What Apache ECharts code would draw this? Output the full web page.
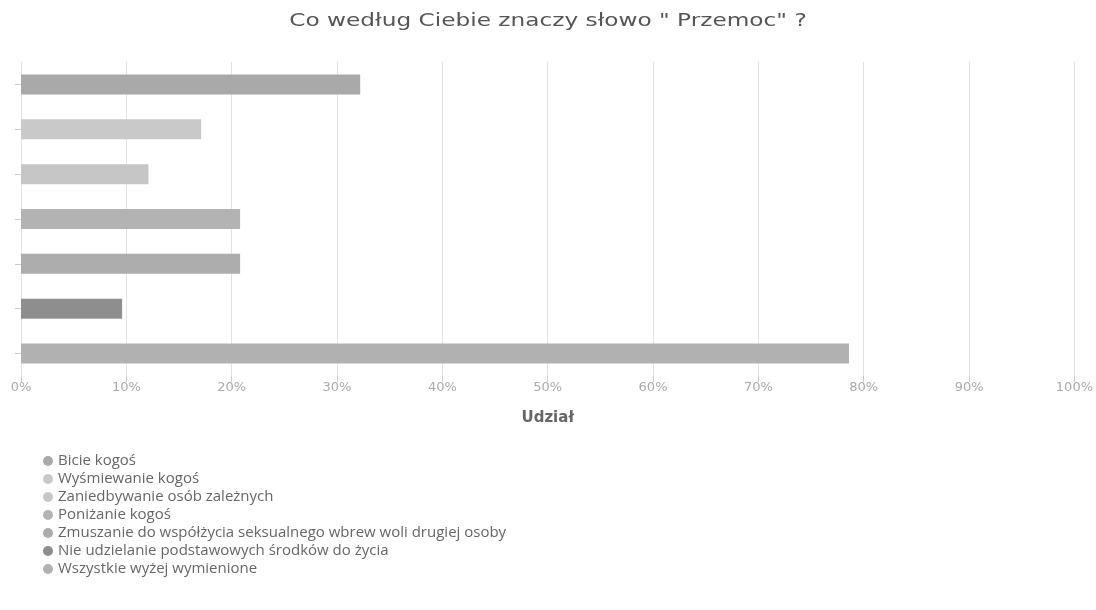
<!DOCTYPE html>
<html>
<head>
<meta charset="utf-8">
<script src="https://cdn.jsdelivr.net/npm/echarts@6/dist/echarts.min.js"></script>
<style>html,body{margin:0;padding:0;background:#fff}#c{width:1096px;height:610px}</style>
</head>
<body>
<div id="c"></div>
<script>
const titleText = 'Co według Ciebie znaczy słowo " Przemoc" ?';
const categories = [
  "Bicie kogoś",
  "Wyśmiewanie kogoś",
  "Zaniedbywanie osób zależnych",
  "Poniżanie kogoś",
  "Zmuszanie do współżycia seksualnego wbrew woli drugiej osoby",
  "Nie udzielanie podstawowych środków do życia",
  "Wszystkie wyżej wymienione"
];
const values = [32.2, 17.1, 12.1, 20.8, 20.8, 9.6, 78.6];
const colors = ["#a9a9a9", "#c9c9c9", "#c6c6c6", "#b3b3b3", "#adadad", "#8e8e8e", "#b1b1b1"];
const xTicks = [0, 10, 20, 30, 40, 50, 60, 70, 80, 90, 100];

const series = categories.map((name, i) => ({
  name: name,
  type: 'bar',
  stack: 'all',
  barWidth: 20,
  itemStyle: { color: colors[i] },
  data: categories.map((c, j) => (j === i ? values[i] : null))
}));

const chart = echarts.init(document.getElementById('c'));
chart.setOption({
  animation: false,
  graphic: [{
    type: 'text',
    x: 548, y: 21,
    scaleX: 1.29,
    style: {
      text: titleText,
      textAlign: 'center', textVerticalAlign: 'middle',
      font: 'normal 18px "DejaVu Sans"',
      fill: '#555'
    }
  }],
  legend: {
    orient: 'vertical', left: 38, top: 447,
    itemGap: 0, itemWidth: 10, itemHeight: 10, icon: 'circle',
    textStyle: { fontFamily: 'Open Sans', fontSize: 15, color: '#666', lineHeight: 18 },
    data: categories
  },
  grid: { left: 21, right: 21, top: 62, bottom: 234, containLabel: false },
  xAxis: {
    type: 'value', min: 0, max: 100, interval: 10,
    name: 'Udział', nameLocation: 'middle', nameGap: 35,
    nameTextStyle: { fontFamily: 'DejaVu Sans', fontSize: 15, fontWeight: 'bold', color: '#666' },
    axisLine: { show: false },
    axisTick: { show: true, length: 6, lineStyle: { color: '#ccc' } },
    axisLabel: { formatter: v => xTicks.includes(v) ? v + '%' : '', fontFamily: 'DejaVu Sans', fontSize: 13, color: '#aaa', margin: 5 },
    splitLine: { show: true, lineStyle: { color: '#e2e2e2' } }
  },
  yAxis: {
    type: 'category', data: categories, inverse: true,
    axisLine: { show: false },
    axisTick: { show: true, alignWithLabel: true, length: 6, lineStyle: { color: '#ccc' } },
    axisLabel: { show: false }
  },
  series: series
});
</script>
</body>
</html>
